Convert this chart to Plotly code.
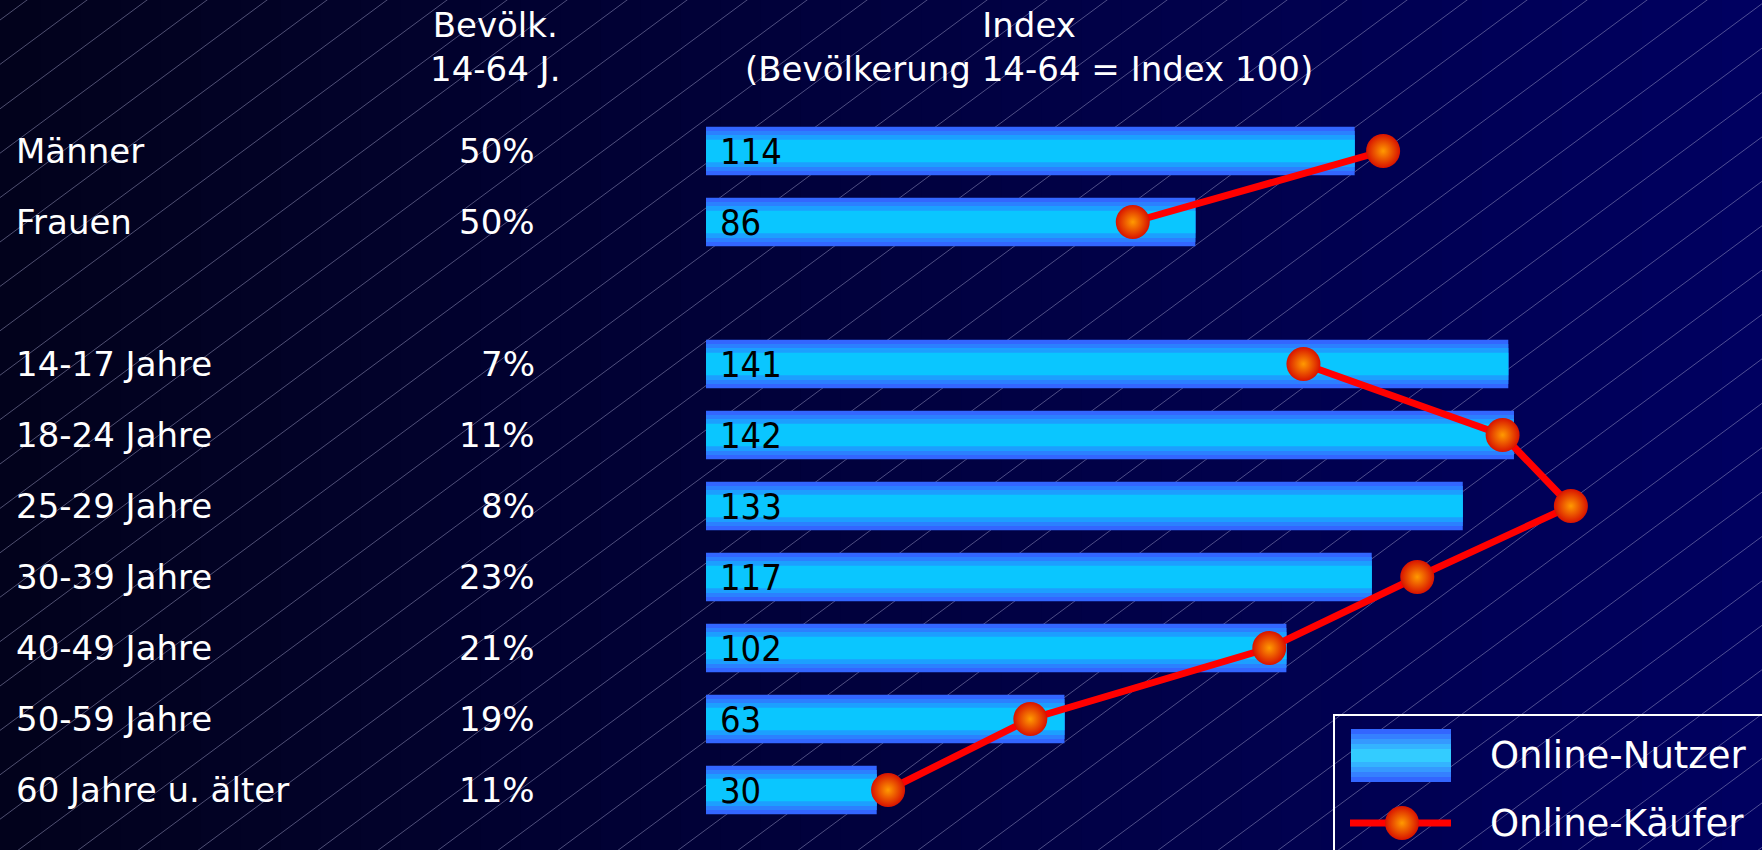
import plotly.graph_objects as go

# ---------------- data ----------------
categories = ["Männer", "Frauen", "14-17 Jahre", "18-24 Jahre", "25-29 Jahre",
              "30-39 Jahre", "40-49 Jahre", "50-59 Jahre", "60 Jahre u. älter"]
row_slots = [0, 1, 3, 4, 5, 6, 7, 8, 9]          # row 2 is an empty spacer
bevoelkerung = ["50%", "50%", "7%", "11%", "8%", "23%", "21%", "19%", "11%"]
online_nutzer = [114, 86, 141, 142, 133, 117, 102, 63, 30]
online_kaeufer = [119, 75, 105, 140, 152, 125, 99, 57, 32]
line_groups = [0, 0, 1, 1, 1, 1, 1, 1, 1]          # Männer/Frauen vs. age groups

header_left = "Bevölk.<br>14-64 J."
header_right = "Index<br>(Bevölkerung 14-64 = Index 100)"
legend_labels = ["Online-Nutzer", "Online-Käufer"]

# ---------------- geometry / style ----------------
W, H = 1762, 850
FONT = "DejaVu Sans"
NUM_FONT = "DejaVu Sans Condensed, Liberation Sans Narrow, DejaVu Sans"
bar_x0_px = 706
px_per_unit = 5.69
row_top_px = 151
row_step_px = 71.0

def px(x):
    return x / W

def py(y):
    return 1 - y / H

fig = go.Figure()

# gradient bars built from overlaid bars of decreasing thickness
bar_layers = [(0.68, "#3366FF"), (0.56, "#2B80FF"), (0.45, "#1C9FFF"), (0.32, "#0AC6FF")]
for w, c in bar_layers:
    fig.add_trace(go.Bar(
        x=online_nutzer, y=row_slots, orientation="h", width=w,
        marker=dict(color=c, line=dict(width=0)),
        hoverinfo="skip", showlegend=False,
    ))

# line for buyers with a break between the two groups
lx, ly = [], []
for i, (v, s, g) in enumerate(zip(online_kaeufer, row_slots, line_groups)):
    if i > 0 and g != line_groups[i - 1]:
        lx.append(None)
        ly.append(None)
    lx.append(v)
    ly.append(s)

marker_style = dict(size=34, color="#D81200",
                    gradient=dict(type="radial", color="#FF9A00"),
                    line=dict(width=0))
fig.add_trace(go.Scatter(
    x=lx, y=ly, mode="lines+markers",
    line=dict(color="#FF0000", width=7),
    marker=marker_style, connectgaps=False,
    hoverinfo="skip", showlegend=False,
))

# legend marker on a full-page helper axis
fig.add_trace(go.Scatter(
    x=[px(1402)], y=[py(823)], xaxis="x2", yaxis="y2", mode="markers",
    marker=marker_style, hoverinfo="skip", showlegend=False,
))

shapes = []
# background horizontal gradient
n_strips = 44
for i in range(n_strips):
    t = i / (n_strips - 1)
    r = int(round(2 * (1 - t)))
    b = int(round(28 + (96 - 28) * t))
    x0 = i * W / n_strips
    x1 = (i + 1) * W / n_strips + 1
    shapes.append(dict(type="rect", xref="paper", yref="paper",
                       x0=px(x0), x1=px(x1), y0=0, y1=1,
                       fillcolor=f"rgb({r},{r},{b})", line=dict(width=0),
                       layer="below"))
# diagonal hatch lines
slope = 0.74
for k in range(-2, 52):
    c = 20 + 44.4 * k
    xa, xb = -50, W + 50
    ya, yb = c + slope * 50, c - slope * (W + 50)
    shapes.append(dict(type="line", xref="paper", yref="paper",
                       x0=px(xa), y0=py(ya), x1=px(xb), y1=py(yb),
                       line=dict(color="rgba(175,175,215,0.45)", width=1),
                       layer="below"))
# legend box
shapes.append(dict(type="rect", xref="paper", yref="paper",
                   x0=px(1334), x1=px(1790), y0=py(880), y1=py(715),
                   line=dict(color="white", width=2), fillcolor="rgba(0,0,0,0)",
                   layer="below"))
# legend bar swatch (vertical gradient)
sw_layers = [(53, "#3366FF"), (43, "#3580FF"), (33, "#3599FF"), (23, "#34B3FF"), (13, "#33CCFF")]
for h, c in sw_layers:
    shapes.append(dict(type="rect", xref="paper", yref="paper",
                       x0=px(1351), x1=px(1451), y0=py(755.5 + h / 2), y1=py(755.5 - h / 2),
                       fillcolor=c, line=dict(width=0), layer="below"))
# legend line sample
shapes.append(dict(type="line", xref="paper", yref="paper",
                   x0=px(1350), x1=px(1451), y0=py(823), y1=py(823),
                   line=dict(color="#FF0000", width=7), layer="below"))

annotations = []
white = dict(family=FONT, size=34, color="white")
for cat, pct, s, v in zip(categories, bevoelkerung, row_slots, online_nutzer):
    annotations.append(dict(text=cat, x=px(14), xref="paper", y=s, yref="y",
                            xanchor="left", yanchor="middle", showarrow=False, font=white))
    annotations.append(dict(text=pct, x=px(537), xref="paper", y=s, yref="y",
                            xanchor="right", yanchor="middle", showarrow=False, font=white))
    annotations.append(dict(text=str(v), x=0, xref="x", y=s, yref="y", xshift=12,
                            xanchor="left", yanchor="middle", showarrow=False,
                            font=dict(family=NUM_FONT, size=36, color="black")))

annotations.append(dict(text=header_left, x=px(495), xref="paper", y=py(47), yref="paper",
                        xanchor="center", yanchor="middle", showarrow=False, font=white,
                        align="center"))
annotations.append(dict(text=header_right, x=px(1029), xref="paper", y=py(47), yref="paper",
                        xanchor="center", yanchor="middle", showarrow=False, font=white,
                        align="center"))
legend_font = dict(family=FONT, size=37, color="white")
annotations.append(dict(text=legend_labels[0], x=px(1488), xref="paper", y=py(755), yref="paper",
                        xanchor="left", yanchor="middle", showarrow=False, font=legend_font))
annotations.append(dict(text=legend_labels[1], x=px(1488), xref="paper", y=py(823), yref="paper",
                        xanchor="left", yanchor="middle", showarrow=False, font=legend_font))

y_top = -row_top_px / row_step_px
y_bottom = y_top + H / row_step_px

fig.update_layout(
    width=W, height=H, autosize=False,
    margin=dict(l=0, r=0, t=0, b=0, pad=0),
    paper_bgcolor="#000040", plot_bgcolor="rgba(0,0,0,0)",
    barmode="overlay", showlegend=False,
    xaxis=dict(domain=[px(bar_x0_px), 1], range=[0, (W - bar_x0_px) / px_per_unit],
               visible=False, fixedrange=True, anchor="y"),
    yaxis=dict(domain=[0, 1], range=[y_bottom, y_top], visible=False,
               fixedrange=True, anchor="x"),
    xaxis2=dict(domain=[0, 1], range=[0, 1], visible=False, fixedrange=True, anchor="y2"),
    yaxis2=dict(domain=[0, 1], range=[0, 1], visible=False, fixedrange=True, anchor="x2"),
    shapes=shapes, annotations=annotations,
    font=dict(family=FONT, color="white"),
)

fig.write_html(
    "out.html",
    config={"displayModeBar": False},
    post_script="document.body.style.margin='0';document.body.style.overflow='hidden';",
)
